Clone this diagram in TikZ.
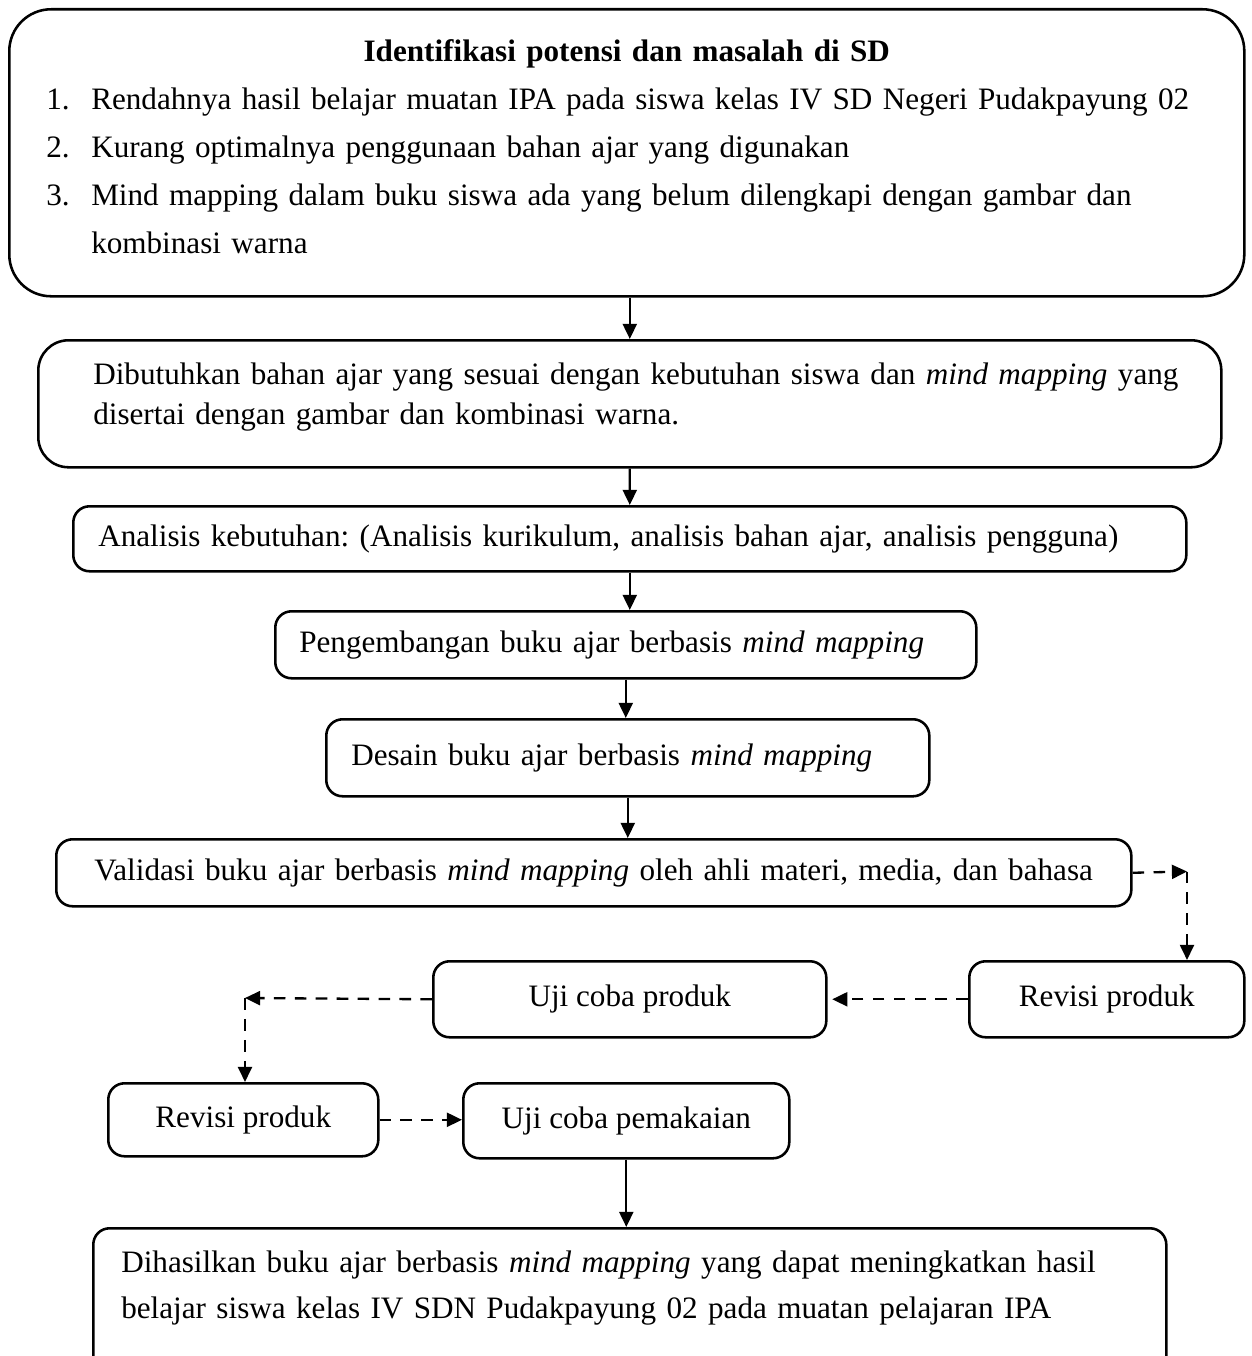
\documentclass[tikz,border=0pt]{standalone}
\usepackage{fontspec}
\setmainfont{Liberation Serif}
\usetikzlibrary{arrows.meta, positioning}
\frenchspacing

\begin{document}
\begin{tikzpicture}[
x=0.43pt, y=-0.43pt,
box/.style={draw, line width=1.1pt, rounded corners=7pt, anchor=north west, inner ysep=0pt, font=\fontsize{13.4}{18}\selectfont},
arr/.style={-{Triangle[length=6.5pt,width=6pt]}, line width=1pt},
dsh/.style={arr, dash pattern=on 5pt off 4pt}
]
\useasboundingbox (0,0) rectangle (1251,1356);

\node[box, rounded corners=18pt, minimum width=531.05pt, minimum height=123.41pt, inner xsep=15.9pt, text width=499.25pt, font=\fontsize{13.4}{20.6}\selectfont] (idn) at (8,8) {%
\begin{tabular}{@{}p{19.35pt}@{}p{479.9pt}@{}}
\multicolumn{2}{@{}c@{}}{\bfseries Identifikasi potensi dan masalah di SD}\\
1. & Rendahnya hasil belajar muatan IPA pada siswa kelas IV SD Negeri Pudakpayung 02\\
2. & Kurang optimalnya penggunaan bahan ajar yang digunakan\\
3. & Mind mapping dalam buku siswa ada yang belum dilengkapi dengan gambar dan\newline kombinasi warna\\[4pt]
\end{tabular}};
\node[box, rounded corners=13pt, minimum width=508.69pt, minimum height=54.61pt, inner xsep=23.65pt, text width=461.39pt, align=left, font=\fontsize{13.4}{17.2}\selectfont] (need) at (37,339)
  {\mbox{Dibutuhkan bahan ajar yang sesuai dengan kebutuhan siswa dan \textit{mind mapping} yang}\\disertai dengan gambar dan kombinasi warna.\rule[-9pt]{0pt}{9pt}};
\node[box, minimum width=478.59pt, minimum height=27.95pt, inner xsep=10.75pt, text width=457.09pt] (anl) at (72,505)
  {\mbox{Analisis kebutuhan: (Analisis kurikulum, analisis bahan ajar, analisis pengguna)}};
\node[box, minimum width=301.43pt, minimum height=28.81pt, inner xsep=10.32pt, text width=280.79pt] (dev) at (274,610)
  {\mbox{Pengembangan buku ajar berbasis \textit{mind mapping}}};
\node[box, minimum width=259.29pt, minimum height=33.11pt, inner xsep=10.75pt, text width=237.79pt] (dsn) at (325,718)
  {\mbox{Desain buku ajar berbasis \textit{mind mapping}}};
\node[box, minimum width=462.25pt, minimum height=28.81pt, inner xsep=16.34pt, text width=429.57pt] (val) at (55,838)
  {\mbox{Validasi buku ajar berbasis \textit{mind mapping} oleh ahli materi, media, dan bahasa}};
\node[box, minimum width=168.99pt, minimum height=32.68pt] (ujp) at (432,960) {Uji coba produk};
\node[box, minimum width=118.25pt, minimum height=32.68pt] (rv1) at (968,960) {Revisi produk};
\node[box, minimum width=116.1pt, minimum height=31.39pt] (rv2) at (107,1082) {Revisi produk};
\node[box, minimum width=140.18pt, minimum height=32.25pt] (ujm) at (462,1082) {Uji coba pemakaian};
\node[box, minimum width=461.39pt, inner xsep=12.04pt, inner ysep=9.6pt, text width=437.3pt, align=left, font=\fontsize{13.4}{20}\selectfont] (res) at (92,1227)
  {Dihasilkan buku ajar berbasis \textit{mind mapping} yang dapat meningkatkan hasil\\belajar siswa kelas IV SDN Pudakpayung 02 pada muatan pelajaran IPA\rule[-40pt]{0pt}{40pt}};

\coordinate (vtip) at (1187,871.5);
\coordinate (utip) at (245,998);

\draw[arr] (idn.south -| need.north) -- (need.north);
\draw[arr] (need) -- (anl);
\draw[arr] (anl.south) -- (anl.south |- dev.north);
\draw[arr] (dev.south) -- (dev.south |- dsn.north);
\draw[arr] (dsn.south) -- (dsn.south |- val.north);
\draw[dsh] (val.east) -- (vtip);
\draw[dsh] (vtip) -- (vtip |- rv1.north);
\draw[dsh, shorten >=2pt] (rv1.west) -- (ujp.east);
\draw[dsh] (ujp.west) -- (utip);
\draw[dsh] (utip) -- (utip |- rv2.north);
\draw[dsh] (rv2.east) -- (rv2.east -| ujm.west);
\draw[arr] (ujm.south) -- (ujm.south |- res.north);
\end{tikzpicture}
\end{document}
